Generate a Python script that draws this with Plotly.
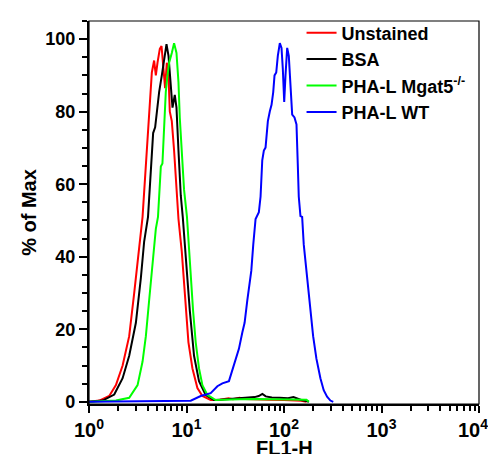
import plotly.graph_objects as go

# ---- data ----
x_unstained = [1.0, 1.275, 1.613, 1.889, 2.212, 2.584, 2.907, 3.224, 3.543, 3.830, 4.139, 4.411, 4.656, 4.847,
               5.044, 5.325, 5.543, 5.892, 6.034, 6.281, 6.538, 6.742, 7.067, 7.460, 7.893, 8.273, 8.941, 9.665,
               10.47, 11.51, 12.94, 14.56, 17.70, 22, 27, 30, 35, 40, 50, 70, 100, 150, 170]
y_unstained = [0, 0.35, 1.6, 4.6, 10.0, 18.1, 30.0, 41.5, 51.0, 65.2, 77.9, 90.8, 94.1, 90.0,
               93.5, 97.3, 98.1, 90.0, 86.5, 93.5, 90.0, 80.0, 77.4, 69.3, 59.3, 50.4, 41.5, 28.0,
               16.4, 9.2, 3.8, 1.6, 0.5, 0.6, 1.0, 0.7, 1.1, 0.8, 0.8, 0.6, 0.5, 0.3, 0]

x_bsa = [1.0, 1.381, 1.815, 2.212, 2.584, 3.026, 3.404, 3.679, 4.03, 4.308, 4.548, 4.768, 4.963, 5.240,
         5.582, 5.892, 6.235, 6.538, 6.902, 7.184, 7.583, 7.893, 8.273, 8.736, 9.155, 9.824, 10.80, 11.95,
         13.44, 15.73, 19.13, 22, 30, 40, 50, 55, 60, 65, 75, 90, 110, 125, 135, 150, 170, 180]
y_bsa = [0, 0.35, 2.0, 6.5, 12.7, 21.8, 34.2, 44.2, 51.0, 63.3, 74.1, 75.7, 80.1, 85.4,
         90.0, 94.6, 98.6, 95.4, 85.4, 81.1, 84.6, 81.1, 69.3, 56.9, 51.0, 39.6, 25.3, 12.7,
         5.7, 1.9, 0.5, 0.6, 0.8, 1.0, 1.3, 1.6, 2.2, 1.5, 1.2, 1.1, 1.0, 1.3, 0.9, 0.5, 0.2, 0]

x_mgat5 = [1.0, 1.889, 2.584, 3.149, 3.543, 3.830, 4.139, 4.484, 4.847, 5.10, 5.325, 5.454, 5.664, 5.892,
           6.132, 6.385, 6.63, 7.067, 7.460, 7.893, 8.273, 8.530, 8.941, 9.438, 10.11, 10.80, 11.67, 12.43,
           13.44, 14.56, 16.38, 19.92, 25, 35, 50, 70, 100, 140, 170, 180]
y_mgat5 = [0, 0.35, 1.1, 4.6, 11.1, 18.1, 28.0, 38.8, 47.7, 51.0, 58.5, 64.9, 65.7, 76.5,
           85.4, 90.0, 93.5, 96.2, 98.9, 96.2, 88.1, 78.4, 69.3, 58.5, 51.0, 38.0, 25.3, 16.4,
           9.2, 4.6, 1.9, 0.5, 0.5, 0.7, 0.8, 0.8, 0.8, 0.7, 0.6, 0]

x_wt = [1.0, 11.05, 13.99, 17.70, 20.73, 23.33, 27.25, 30.65, 34.48, 37.36, 39.44, 42.03, 44.68, 46.18,
        48.41, 51.10, 55.24, 57.50, 59.84, 62.14, 64.68, 68.30, 71.58, 74.51, 77.55, 79.96, 83.23, 86.43,
        90.59, 94.29, 97.21, 100.5, 103.6, 107.8, 112.0, 116.6, 121.3, 128.1, 134.3, 138.4, 141.7, 147.5,
        153.5, 159.4, 172.8, 186.6, 199.0, 215.0, 236.3, 255.4, 276.6, 299.0, 320]
y_wt = [0, 0.3, 1.6, 2.4, 4.3, 5.1, 5.7, 10.0, 14.6, 19.1, 21.8, 28.0, 34.2, 36.1,
        43.4, 50.4, 52.3, 56.6, 66.6, 69.3, 70.1, 77.4, 80.1, 81.9, 85.4, 90.0, 90.8, 95.4,
        98.9, 97.6, 91.9, 82.7, 90.0, 97.6, 95.4, 88.1, 79.2, 78.4, 76.5, 65.7, 56.6, 51.2,
        51.0, 43.4, 34.2, 27.2, 18.1, 11.9, 6.5, 3.2, 1.4, 0.35, 0]

series_names = ["Unstained", "BSA", "PHA-L Mgat5<sup>-/-</sup>", "PHA-L WT"]
series_colors = ["#ff0000", "#000000", "#00ff00", "#0000ff"]

x_tickvals = [1, 10, 100, 1000, 10000]
x_ticktext = ["<b>10<sup>0</sup></b>", "<b>10<sup>1</sup></b>", "<b>10<sup>2</sup></b>",
              "<b>10<sup>3</sup></b>", ""]
x_last_label = "<b>10<sup>4</sup></b>"
x_title = "<b>FL1-H</b>"
x_minor = [m * d for d in (1, 10, 100, 1000) for m in range(2, 10)]
y_tickvals = [0, 20, 40, 60, 80, 100]

FONT = "Liberation Sans, Arial, sans-serif"

fig = go.Figure()
data = [(x_unstained, y_unstained), (x_bsa, y_bsa), (x_mgat5, y_mgat5), (x_wt, y_wt)]
for i, ((xs, ys), name, col) in enumerate(zip(data, series_names, series_colors)):
    fig.add_trace(go.Scatter(x=xs, y=ys, mode="lines", name="<b>" + name + "</b>",
                             line=dict(color=col, width=2), legendgroup=str(i)))

# page body has an 8px margin; keep the page inside the 496x468 window
fig.update_layout(
    width=488, height=446,
    margin=dict(l=81, r=17, t=6, b=50),
    paper_bgcolor="white", plot_bgcolor="white",
    font=dict(family=FONT, color="black"),
    showlegend=True,
    legend=dict(x=0.545, y=1.017, xanchor="left", yanchor="top",
                font=dict(size=18, family=FONT, color="black"),
                bgcolor="rgba(0,0,0,0)", tracegroupgap=0, itemwidth=30),
    shapes=[dict(type="rect", xref="paper", yref="paper", x0=0, y0=0, x1=1, y1=1,
                 line=dict(color="black", width=1.2), layer="above")],
    annotations=[
        dict(text=x_last_label, xref="paper", yref="paper", x=1, y=0,
             xanchor="right", yanchor="top", xshift=11, yshift=-10, showarrow=False,
             font=dict(size=20, family=FONT, color="black")),
        dict(text=x_title, xref="paper", yref="paper", x=0.5, y=0,
             xanchor="center", yanchor="top", yshift=-31, showarrow=False,
             font=dict(size=20, family=FONT, color="black")),
    ],
)
fig.update_xaxes(
    type="log", range=[0, 4], automargin=False,
    tickmode="array", tickvals=x_tickvals, ticktext=x_ticktext,
    tickfont=dict(size=20, family=FONT, color="black"),
    ticks="outside", ticklen=7, tickwidth=2.2, tickcolor="black",
    minor=dict(tickmode="array", tickvals=x_minor, ticks="outside", ticklen=5, tickwidth=2, tickcolor="black"),
    showline=True, linecolor="black", linewidth=2.2, showgrid=False, zeroline=False,
)
fig.update_yaxes(
    range=[-0.6, 105], automargin=False,
    tickmode="array", tickvals=y_tickvals,
    tickfont=dict(size=18, family=FONT, color="black", weight="bold"),
    ticks="outside", ticklen=8, tickwidth=2.2, tickcolor="black",
    minor=dict(dtick=5, ticks="outside", ticklen=5, tickwidth=2, tickcolor="black"),
    showline=True, linecolor="black", linewidth=2.2, showgrid=False, zeroline=False,
    title=dict(text="<b>% of Max</b>", font=dict(size=20, family=FONT, color="black"), standoff=3),
)

fig.write_html("out.html")
